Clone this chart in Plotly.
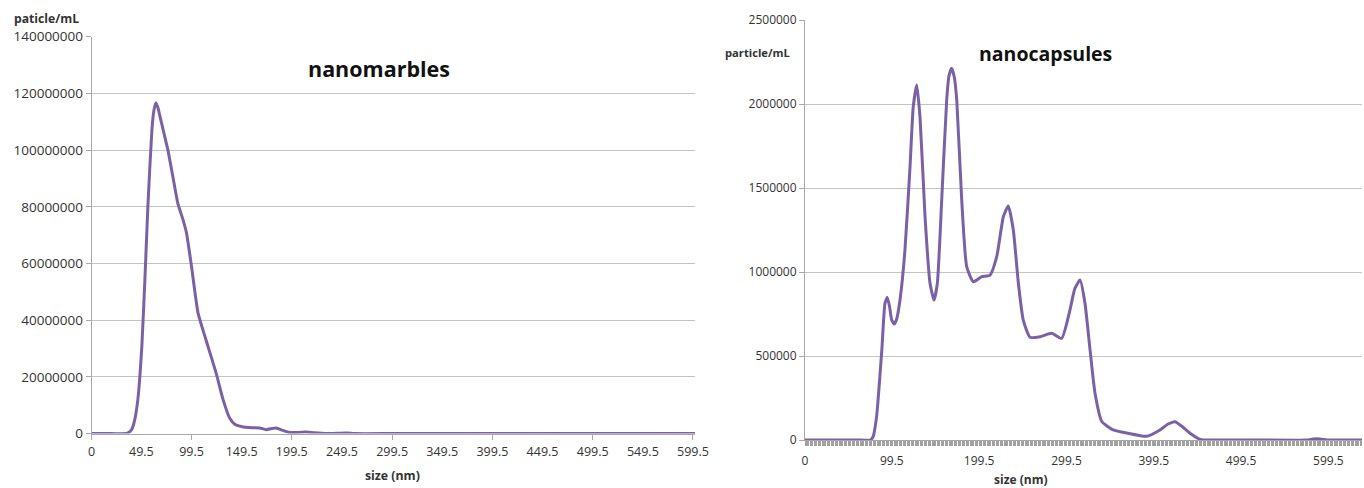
import plotly.graph_objects as go

# Nanomarbles: size distribution (nm) vs concentration (particles/mL)
marbles_size = [0, 20, 34, 37, 40, 43, 46, 48, 50, 53, 56, 60, 62, 64, 66, 68, 72, 76, 81, 86, 91,
                94.5, 99.5, 106, 114, 124, 131, 137.5, 143, 150, 160, 167.5, 174, 180, 184,
                190, 196, 205, 214, 222, 234, 254, 262, 300, 400, 500, 601.5]
marbles_conc = [0, 0, 0, 0.4e6, 1.5e6, 5e6, 12e6, 20e6, 30.8e6, 54e6, 80e6, 107e6, 114e6,
                116.6e6, 115e6, 112e6, 106e6, 100e6, 90.5e6, 81e6, 75.5e6, 70.8e6, 59e6, 42.6e6,
                33e6, 21.4e6, 12e6, 5.5e6, 3.2e6, 2.4e6, 2.1e6, 2.0e6, 1.4e6, 1.8e6, 2.0e6, 1.2e6,
                0.5e6, 0.4e6, 0.6e6, 0.3e6, 0, 0.2e6, 0, 0, 0, 0, 0]

# Nanocapsules: size distribution (nm) vs concentration (particles/mL)
capsules_size = [0, 30, 60, 75, 78, 82, 88, 91.6, 94.3, 97, 99.3, 102.3, 105, 108.8, 114.5,
                 120.3, 124, 128, 131.7, 137.5, 143.2, 147.8, 151.6, 156.6, 162.3, 165, 168, 171,
                 173.8, 179.5, 185.2, 192.8, 202.4, 212, 219.6, 227.2, 232.9, 238.6, 244.4, 250,
                 257.7, 269.2, 282.6, 294, 303.5, 309, 315, 320.7, 326.5, 332.2, 340, 353,
                 370, 391, 406.6, 416, 423.8, 432, 441, 452.5, 470, 520, 575, 582, 590, 598,
                 610, 638]
capsules_conc = [0, 0, 0, 0, 20e3, 139e3, 536e3, 814e3, 849e3, 790e3, 714e3, 690e3, 720e3,
                 833e3, 1131e3, 1627e3, 1984e3, 2113e3, 1925e3, 1329e3, 933e3, 833e3, 933e3,
                 1429e3, 2024e3, 2170e3, 2213e3, 2160e3, 2024e3, 1429e3, 1032e3, 942e3,
                 972e3, 982e3, 1091e3, 1329e3, 1393e3, 1250e3, 933e3, 714e3, 611e3, 615e3,
                 635e3, 605e3, 774e3, 900e3, 952e3, 814e3, 536e3, 278e3, 110e3, 60e3, 40e3,
                 22e3, 60e3, 95e3, 109e3, 80e3, 40e3, 4e3, 0, 0, 0, 6e3, 6e3, 0, 0, 0]

size_ticks = [0, 49.5, 99.5, 149.5, 199.5, 249.5, 299.5, 349.5, 399.5, 449.5, 499.5, 549.5, 599.5]
size_ticks_wide = [0, 99.5, 199.5, 299.5, 399.5, 499.5, 599.5]

W, H = 1364, 488
LINE = "#7a61a6"
GRID = "#c4c4c4"
AXIS = "#a8a8a8"
TXT = "#333333"
FONT = "Open Sans"


def px_x(p):
    return p / W


def px_y(p):
    return 1 - p / H


fig = go.Figure()
fig.add_trace(go.Scatter(x=marbles_size, y=marbles_conc, mode="lines",
                         line=dict(color=LINE, width=3, shape="spline", smoothing=0.5),
                         xaxis="x", yaxis="y", showlegend=False))
fig.add_trace(go.Scatter(x=capsules_size, y=capsules_conc, mode="lines",
                         line=dict(color=LINE, width=3, shape="spline", smoothing=0.5),
                         xaxis="x2", yaxis="y2", showlegend=False))

fig.update_layout(
    width=W, height=H,
    margin=dict(l=0, r=0, t=0, b=0, autoexpand=False),
    paper_bgcolor="white", plot_bgcolor="white",
    font=dict(family=FONT, color=TXT),
    xaxis=dict(domain=[px_x(91.7), px_x(695)], range=[0, 601.5], anchor="y",
               automargin=False,
               tickmode="array", tickvals=size_ticks,
               ticktext=[f"{v:g}" for v in size_ticks],
               ticks="", showgrid=False, zeroline=False,
               showline=True, linecolor=AXIS, linewidth=1,
               tickfont=dict(size=12.5, color=TXT), ticklabelstandoff=6,
               minor=dict(tickmode="array", tickvals=size_ticks_wide, ticks="outside",
                          ticklen=5, tickcolor=AXIS, showgrid=False)),
    yaxis=dict(domain=[px_y(433.6), px_y(36.7)], range=[0, 140e6], anchor="x",
               automargin=False,
               tick0=0, dtick=20e6, tickformat="d",
               showgrid=True, gridcolor=GRID, gridwidth=1, zeroline=False,
               showline=True, linecolor=AXIS, linewidth=1,
               ticks="outside", ticklen=5, tickcolor=AXIS,
               tickfont=dict(size=13.5, color=TXT)),
    xaxis2=dict(domain=[px_x(805), px_x(1362)], range=[0, 638], anchor="y2",
                automargin=False,
                tickmode="array", tickvals=size_ticks_wide,
                ticktext=[f"{v:g}" for v in size_ticks_wide],
                ticks="", showgrid=False, zeroline=False,
                showline=True, linecolor=AXIS, linewidth=1,
                tickfont=dict(size=12, color=TXT), ticklabelstandoff=10,
                minor=dict(tick0=0, dtick=1.5, ticks="outside", ticklen=5,
                           tickcolor="#a0a0a0", tickwidth=1, showgrid=False)),
    yaxis2=dict(domain=[px_y(440), px_y(20)], range=[0, 2.5e6], anchor="x2",
                automargin=False,
                tick0=0, dtick=5e5, tickformat="d",
                showgrid=True, gridcolor=GRID, gridwidth=1, zeroline=False,
                showline=True, linecolor=AXIS, linewidth=1,
                ticks="outside", ticklen=5, tickcolor=AXIS,
                tickfont=dict(size=12, color=TXT)),
)

annotations = [
    dict(text="<b>nanomarbles</b>", x=px_x(379), y=px_y(68), font=dict(size=21.5, color="#111111")),
    dict(text="<b>nanocapsules</b>", x=px_x(1045), y=px_y(54), font=dict(size=19.5, color="#111111")),
    dict(text="<b>paticle/mL</b>", x=px_x(47), y=px_y(19), font=dict(size=12.2, color=TXT)),
    dict(text="<b>particle/mL</b>", x=px_x(758), y=px_y(53), font=dict(size=11.2, color=TXT)),
    dict(text="<b>size (nm)</b>", x=px_x(392), y=px_y(475), font=dict(size=12.3, color=TXT)),
    dict(text="<b>size (nm)</b>", x=px_x(1021), y=px_y(479), font=dict(size=12, color=TXT)),
]
for a in annotations:
    fig.add_annotation(xref="paper", yref="paper", showarrow=False,
                       xanchor="center", yanchor="middle", **a)

fig.write_html("out.html")
